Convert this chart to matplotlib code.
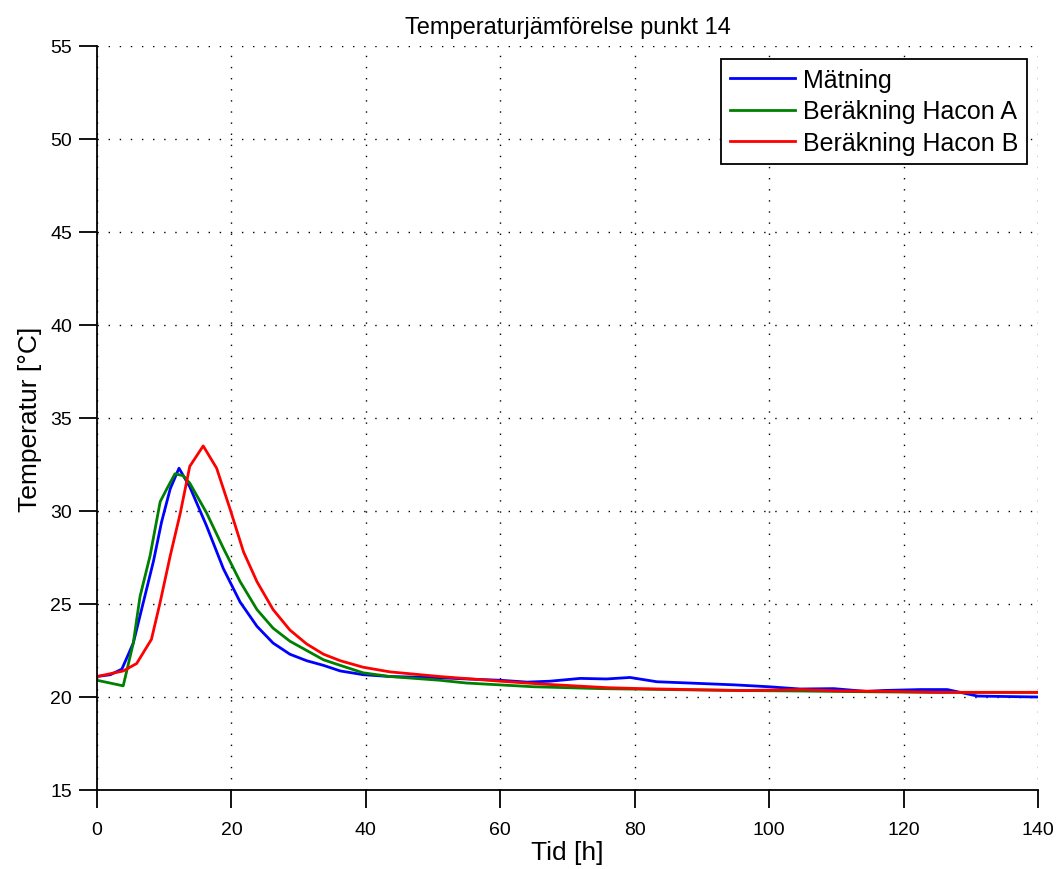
import matplotlib.pyplot as plt

plt.rcParams['font.family'] = ['Liberation Sans', 'DejaVu Sans']

# Mätning (measured)
t_meas = [0, 2, 3.7, 5.4, 6.9, 8.4, 9.6, 10.9, 12.2, 13.8, 16.3, 18.8, 21.3, 23.8, 26.2,
          28.7, 31.2, 33.7, 36.2, 39.6, 43.6, 50, 55, 60, 64, 67.4, 71.9, 75.8, 79.3, 83.3,
          88.2, 95, 100, 104.6, 109.6, 114.5, 117, 122.5, 126.5, 131, 140]
T_meas = [21.1, 21.2, 21.5, 22.9, 25.1, 27.3, 29.4, 31.2, 32.3, 31.3, 29.2, 26.9, 25.1, 23.8, 22.9,
          22.3, 21.95, 21.7, 21.4, 21.2, 21.1, 21.05, 20.97, 20.9, 20.8, 20.85, 21.0, 20.97, 21.05, 20.82,
          20.75, 20.65, 20.55, 20.43, 20.45, 20.3, 20.35, 20.4, 20.4, 20.05, 20.0]

# Beräkning Hacon A
t_a = [0, 3.9, 5.4, 6.4, 7.9, 9.4, 10.4, 11.6, 12.8, 13.8, 16.3, 18.8, 21.3, 23.8, 26.2,
       28.7, 31.2, 33.7, 36.2, 39.6, 43.6, 51, 55, 65, 75, 85, 95, 105, 115, 125, 140]
T_a = [20.9, 20.6, 22.9, 25.4, 27.6, 30.5, 31.2, 32.0, 31.9, 31.5, 29.9, 28.0, 26.2, 24.7, 23.7,
       23.0, 22.5, 22.0, 21.7, 21.3, 21.1, 20.9, 20.75, 20.55, 20.45, 20.4, 20.35, 20.32, 20.28, 20.25, 20.25]

# Beräkning Hacon B
t_b = [0, 3.9, 5.9, 8.1, 9.4, 10.9, 12.4, 13.8, 15.8, 17.8, 19.8, 21.8, 23.8, 26.2, 28.7,
       31.2, 33.7, 36.2, 39.6, 43.6, 51, 60, 66, 71, 76, 81, 88, 96, 105, 110, 118, 125, 140]
T_b = [21.1, 21.4, 21.8, 23.1, 25.1, 27.6, 29.9, 32.4, 33.5, 32.3, 30.1, 27.8, 26.2, 24.7, 23.6,
       22.85, 22.3, 21.95, 21.6, 21.35, 21.1, 20.85, 20.7, 20.6, 20.5, 20.45, 20.4, 20.35, 20.4, 20.33, 20.3, 20.25, 20.25]

fig = plt.figure(figsize=(10.58, 8.70), dpi=100)
ax = fig.add_axes([97 / 1058, 79 / 870, 941 / 1058, 744 / 870])

ax.plot(t_meas, T_meas, color='#0000ff', lw=2, label='Mätning')
ax.plot(t_a, T_a, color='#008000', lw=2, label='Beräkning Hacon A')
ax.plot(t_b, T_b, color='#ff0000', lw=2, label='Beräkning Hacon B')

ax.set_xlim(0, 140)
ax.set_ylim(15, 55)
ax.set_xticks(range(0, 141, 20))
ax.set_yticks(range(15, 56, 5))
ax.grid(True, color='black', lw=1.0, linestyle=(0, (1, 7)))
ax.spines['top'].set_visible(False)
ax.spines['right'].set_visible(False)
for s in ['left', 'bottom']:
    ax.spines[s].set_linewidth(1.3)
ax.tick_params(axis='both', direction='out', length=13, width=1.3, labelsize=14)
ax.tick_params(axis='x', pad=9)
ax.tick_params(axis='y', pad=5)

ax.set_title('Temperaturjämförelse punkt 14', fontsize=17, pad=9)
ax.set_xlabel('Tid [h]', fontsize=19, labelpad=2)
ax.set_ylabel('Temperatur [°C]', fontsize=19, labelpad=6)

leg = ax.legend(loc='upper right', bbox_to_anchor=(0.988, 0.9825), borderaxespad=0,
                fontsize=18, fancybox=False, framealpha=1, edgecolor='black',
                handlelength=2.6, handletextpad=0.3, labelspacing=0.3, borderpad=0.35)
leg.get_frame().set_linewidth(1.3)

fig.savefig('out.png', dpi=100)
